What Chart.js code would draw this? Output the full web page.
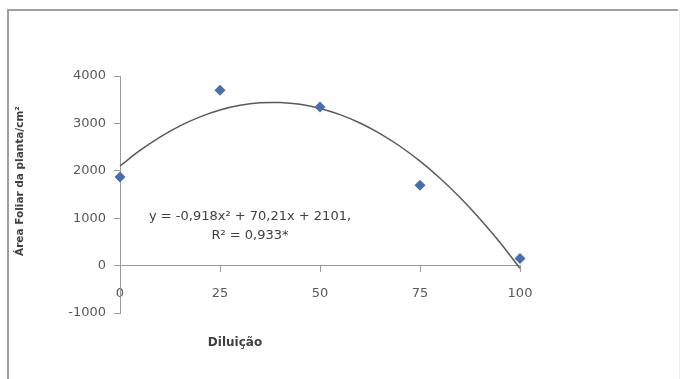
<!DOCTYPE html>
<html>
<head>
<meta charset="utf-8">
<script src="https://cdn.jsdelivr.net/npm/chart.js@4.4.1/dist/chart.umd.min.js"></script>
<style>
    html, body { margin: 0; padding: 0; background: #ffffff; }
    canvas { display: block; }
</style>
</head>
<body>
<canvas id="leafChart" width="680" height="379"></canvas>
<script>
// Observed points (diluição x área foliar)
const dilution = [0, 25, 50, 75, 100];
const leafArea = [1870, 3700, 3345, 1695, 150];

// Trend line, every 5 units of diluição
const trendX = [0, 5, 10, 15, 20, 25, 30, 35, 40, 45, 50, 55, 60, 65, 70, 75, 80, 85, 90, 95, 100];
const trendY = [2101, 2429, 2711, 2948, 3138, 3283, 3381, 3434, 3440, 3402, 3316, 3186, 3009, 2786, 2518, 2203, 1843, 1436, 984, 486, -58];

// Texts
const xTitle = 'Diluição';
const yTitle = 'Área Foliar da planta/cm²';
const equationLines = ['y = -0,918x² + 70,21x + 2101,', 'R² = 0,933*'];

const axisColor = '#9a9a9a';
const labelColor = '#595959';

// Frame around the chart + axis titles + equation
const decorPlugin = {
    id: 'decor',
    beforeDraw(chart) {
        const ctx = chart.ctx;
        ctx.save();
        ctx.strokeStyle = '#a0a0a0';
        ctx.lineWidth = 2;
        ctx.beginPath();
        ctx.moveTo(8, 379);
        ctx.lineTo(8, 10);
        ctx.lineTo(678, 10);
        ctx.stroke();
        ctx.strokeStyle = '#ededed';
        ctx.lineWidth = 1;
        ctx.beginPath();
        ctx.moveTo(679.5, 11);
        ctx.lineTo(679.5, 379);
        ctx.stroke();
        ctx.restore();
    },
    afterDraw(chart) {
        const ctx = chart.ctx;
        ctx.save();
        ctx.fillStyle = '#404040';
        ctx.textAlign = 'center';
        ctx.textBaseline = 'middle';

        ctx.font = 'bold 12px "DejaVu Sans"';
        ctx.fillText(xTitle, 235, 343);

        ctx.save();
        ctx.translate(20, 181);
        ctx.rotate(-Math.PI / 2);
        ctx.font = 'bold 10.5px "DejaVu Sans"';
        ctx.fillText(yTitle, 0, 0);
        ctx.restore();

        ctx.font = '13px "DejaVu Sans"';
        ctx.fillText(equationLines[0], 250, 217);
        ctx.fillText(equationLines[1], 250, 236);
        ctx.restore();
    }
};

const ctx = document.getElementById('leafChart').getContext('2d');

new Chart(ctx, {
    type: 'scatter',
    data: {
        datasets: [
            {
                label: 'Área foliar',
                data: dilution.map((x, i) => ({ x: x, y: leafArea[i] })),
                pointStyle: 'rectRot',
                pointRadius: 5.5,
                backgroundColor: '#4a6ea9',
                borderColor: '#4a6ea9',
                borderWidth: 0,
                clip: false,
                order: 0
            },
            {
                label: 'Polinomial',
                data: trendX.map((x, i) => ({ x: x, y: trendY[i] })),
                showLine: true,
                tension: 0.3,
                pointRadius: 0,
                borderColor: '#5a5a5a',
                borderWidth: 1.5,
                clip: false,
                order: 1
            }
        ]
    },
    options: {
        responsive: false,
        animation: false,
        layout: { padding: { left: 0, right: 160, top: 76, bottom: 66 } },
        plugins: {
            legend: { display: false },
            tooltip: { enabled: false }
        },
        scales: {
            x: {
                type: 'linear',
                position: { y: 0 },
                min: 0,
                max: 100,
                ticks: {
                    stepSize: 25,
                    padding: 14,
                    color: labelColor,
                    font: { family: 'DejaVu Sans', size: 13 },
                    callback: (value) => String(value)
                },
                grid: { drawOnChartArea: false, drawTicks: true, tickLength: 6, color: axisColor },
                border: { display: true, color: axisColor, width: 1 }
            },
            y: {
                type: 'linear',
                min: -1000,
                max: 4000,
                afterFit: (scale) => { scale.width = 120; },
                ticks: {
                    stepSize: 1000,
                    padding: 8,
                    color: labelColor,
                    font: { family: 'DejaVu Sans', size: 13 },
                    callback: (value) => String(value)
                },
                grid: { drawOnChartArea: false, drawTicks: true, tickLength: 6, color: axisColor },
                border: { display: true, color: axisColor, width: 1 }
            }
        }
    },
    plugins: [decorPlugin]
});
</script>
</body>
</html>
